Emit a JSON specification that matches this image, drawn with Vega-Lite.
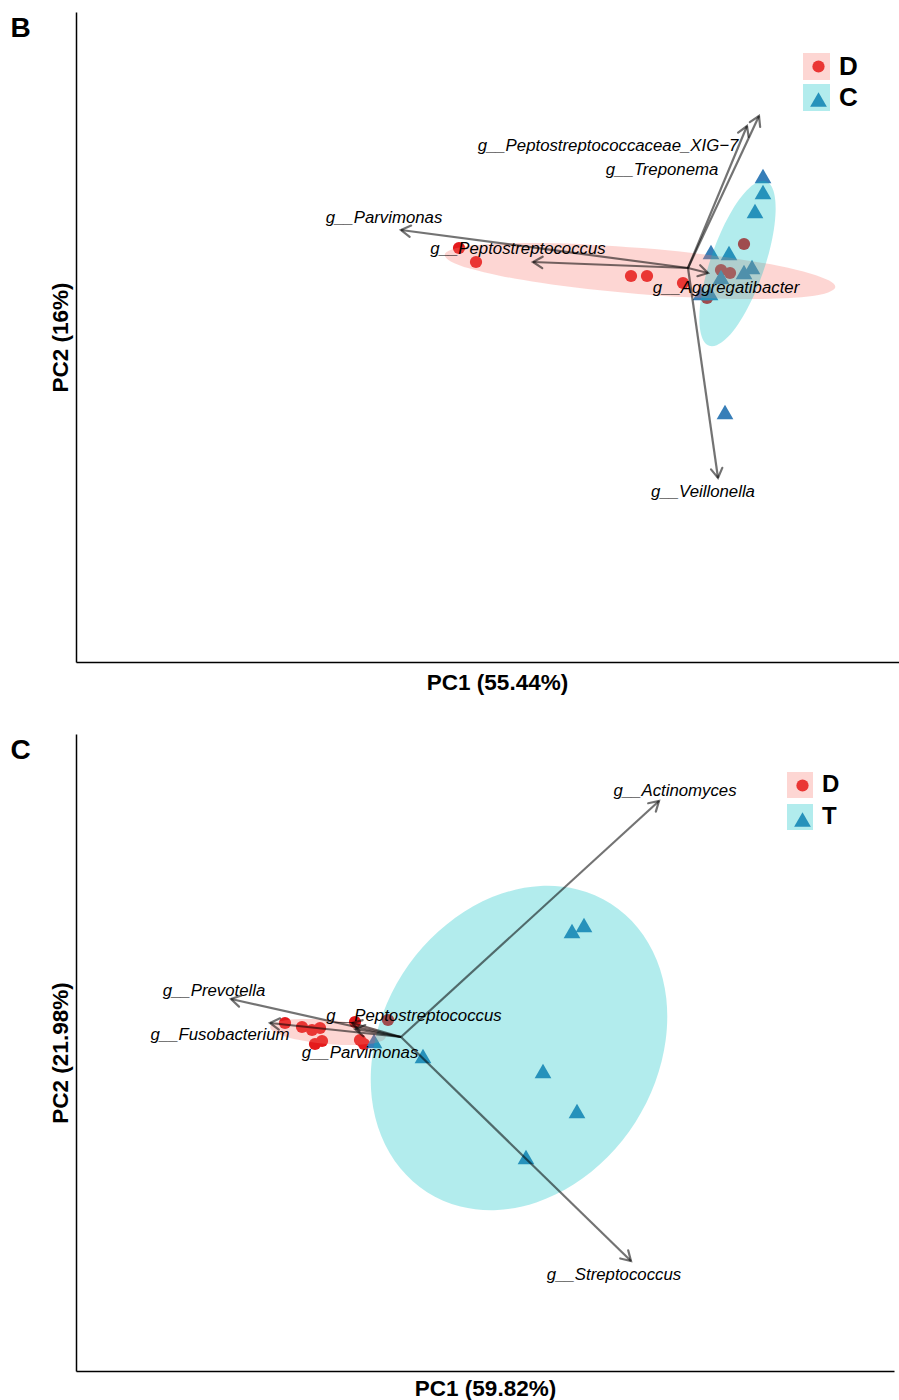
{
  "$schema": "https://vega.github.io/schema/vega-lite/v6.json",
  "padding": {"left": 10, "top": 12, "right": 0, "bottom": 0},
  "background": "white",
  "config": {
    "view": {"stroke": null},
    "font": "Liberation Sans",
    "axis": {"labels": false, "ticks": false, "grid": false, "domain": true, "domainColor": "black", "domainWidth": 1.5, "titleFont": "Liberation Sans", "titleFontSize": 22.5, "titleFontWeight": "bold", "titleColor": "black"}
  },
  "datasets": {
    "bPts": [
      {"pc1": -2.29, "pc2": 0.20, "group": "D"}, {"pc1": -2.12, "pc2": 0.06, "group": "D"}, {"pc1": -0.57, "pc2": -0.08, "group": "D"},
      {"pc1": -0.41, "pc2": -0.08, "group": "D"}, {"pc1": -0.05, "pc2": -0.15, "group": "D"}, {"pc1": 0.56, "pc2": 0.24, "group": "D"},
      {"pc1": 0.33, "pc2": -0.02, "group": "D"}, {"pc1": 0.42, "pc2": -0.05, "group": "D"}, {"pc1": 0.19, "pc2": -0.30, "group": "D"},
      {"pc1": 0.75, "pc2": 0.92, "group": "C"}, {"pc1": 0.75, "pc2": 0.76, "group": "C"}, {"pc1": 0.67, "pc2": 0.57, "group": "C"},
      {"pc1": 0.23, "pc2": 0.16, "group": "C"}, {"pc1": 0.41, "pc2": 0.15, "group": "C"}, {"pc1": 0.64, "pc2": 0.01, "group": "C"},
      {"pc1": 0.56, "pc2": -0.04, "group": "C"}, {"pc1": 0.33, "pc2": -0.09, "group": "C"}, {"pc1": 0.13, "pc2": -0.25, "group": "C"},
      {"pc1": 0.22, "pc2": -0.25, "group": "C"}, {"pc1": 0.37, "pc2": -1.44, "group": "C"}
    ],
    "bEll": [
      {"group": "D", "i": 0, "pc1": 1.473, "pc2": -0.191}, {"group": "D", "i": 1, "pc1": 1.412, "pc2": -0.126}, {"group": "D", "i": 2, "pc1": 1.221, "pc2": -0.054},
      {"group": "D", "i": 3, "pc1": 0.915, "pc2": 0.019}, {"group": "D", "i": 4, "pc1": 0.513, "pc2": 0.088}, {"group": "D", "i": 5, "pc1": 0.044, "pc2": 0.150},
      {"group": "D", "i": 6, "pc1": -0.461, "pc2": 0.199}, {"group": "D", "i": 7, "pc1": -0.967, "pc2": 0.233}, {"group": "D", "i": 8, "pc1": -1.440, "pc2": 0.249},
      {"group": "D", "i": 9, "pc1": -1.848, "pc2": 0.246}, {"group": "D", "i": 10, "pc1": -2.162, "pc2": 0.224}, {"group": "D", "i": 11, "pc1": -2.362, "pc2": 0.184},
      {"group": "D", "i": 12, "pc1": -2.433, "pc2": 0.131}, {"group": "D", "i": 13, "pc1": -2.372, "pc2": 0.066}, {"group": "D", "i": 14, "pc1": -2.181, "pc2": -0.006},
      {"group": "D", "i": 15, "pc1": -1.874, "pc2": -0.079}, {"group": "D", "i": 16, "pc1": -1.473, "pc2": -0.148}, {"group": "D", "i": 17, "pc1": -1.004, "pc2": -0.210},
      {"group": "D", "i": 18, "pc1": -0.499, "pc2": -0.259}, {"group": "D", "i": 19, "pc1": 0.007, "pc2": -0.293}, {"group": "D", "i": 20, "pc1": 0.480, "pc2": -0.309},
      {"group": "D", "i": 21, "pc1": 0.888, "pc2": -0.306}, {"group": "D", "i": 22, "pc1": 1.202, "pc2": -0.284}, {"group": "D", "i": 23, "pc1": 1.402, "pc2": -0.244},
      {"group": "C", "i": 0, "pc1": 0.778, "pc2": 0.868}, {"group": "C", "i": 1, "pc1": 0.703, "pc2": 0.862}, {"group": "C", "i": 2, "pc1": 0.613, "pc2": 0.801},
      {"group": "C", "i": 3, "pc1": 0.515, "pc2": 0.689}, {"group": "C", "i": 4, "pc1": 0.416, "pc2": 0.532}, {"group": "C", "i": 5, "pc1": 0.322, "pc2": 0.343},
      {"group": "C", "i": 6, "pc1": 0.240, "pc2": 0.133}, {"group": "C", "i": 7, "pc1": 0.175, "pc2": -0.083}, {"group": "C", "i": 8, "pc1": 0.132, "pc2": -0.290},
      {"group": "C", "i": 9, "pc1": 0.114, "pc2": -0.475}, {"group": "C", "i": 10, "pc1": 0.122, "pc2": -0.623}, {"group": "C", "i": 11, "pc1": 0.155, "pc2": -0.727},
      {"group": "C", "i": 12, "pc1": 0.212, "pc2": -0.778}, {"group": "C", "i": 13, "pc1": 0.287, "pc2": -0.772}, {"group": "C", "i": 14, "pc1": 0.377, "pc2": -0.711},
      {"group": "C", "i": 15, "pc1": 0.475, "pc2": -0.599}, {"group": "C", "i": 16, "pc1": 0.574, "pc2": -0.442}, {"group": "C", "i": 17, "pc1": 0.668, "pc2": -0.253},
      {"group": "C", "i": 18, "pc1": 0.750, "pc2": -0.043}, {"group": "C", "i": 19, "pc1": 0.815, "pc2": 0.173}, {"group": "C", "i": 20, "pc1": 0.858, "pc2": 0.380},
      {"group": "C", "i": 21, "pc1": 0.876, "pc2": 0.565}, {"group": "C", "i": 22, "pc1": 0.868, "pc2": 0.713}, {"group": "C", "i": 23, "pc1": 0.835, "pc2": 0.817}
    ],
    "bVec": [
      {"genus": "g__Peptostreptococcaceae_XIG−7", "pc1": 0.71, "pc2": 1.52, "lx": -0.80, "ly": 1.22},
      {"genus": "g__Treponema", "pc1": 0.59, "pc2": 1.42, "lx": -0.26, "ly": 0.98},
      {"genus": "g__Parvimonas", "pc1": -2.87, "pc2": 0.38, "lx": -3.04, "ly": 0.50},
      {"genus": "g__Peptostreptococcus", "pc1": -1.55, "pc2": 0.06, "lx": -1.70, "ly": 0.19},
      {"genus": "g__Aggregatibacter", "pc1": 0.20, "pc2": -0.05, "lx": 0.38, "ly": -0.20},
      {"genus": "g__Veillonella", "pc1": 0.30, "pc2": -2.10, "lx": 0.15, "ly": -2.24}
    ],
    "cPts": [
      {"pc1": -1.16, "pc2": 0.14, "group": "D"}, {"pc1": -0.99, "pc2": 0.10, "group": "D"}, {"pc1": -0.89, "pc2": 0.07, "group": "D"},
      {"pc1": -0.81, "pc2": 0.09, "group": "D"}, {"pc1": -0.86, "pc2": -0.07, "group": "D"}, {"pc1": -0.79, "pc2": -0.04, "group": "D"},
      {"pc1": -0.46, "pc2": 0.15, "group": "D"}, {"pc1": -0.41, "pc2": -0.03, "group": "D"}, {"pc1": -0.37, "pc2": -0.07, "group": "D"},
      {"pc1": -0.13, "pc2": 0.17, "group": "D"},
      {"pc1": 1.71, "pc2": 1.06, "group": "T"}, {"pc1": 1.83, "pc2": 1.12, "group": "T"}, {"pc1": 1.42, "pc2": -0.34, "group": "T"},
      {"pc1": 1.76, "pc2": -0.74, "group": "T"}, {"pc1": 1.25, "pc2": -1.20, "group": "T"}, {"pc1": 0.22, "pc2": -0.19, "group": "T"},
      {"pc1": -0.27, "pc2": -0.04, "group": "T"}
    ],
    "cEll": [
      {"group": "D", "i": 0, "pc1": -0.152, "pc2": -0.001}, {"group": "D", "i": 1, "pc1": -0.169, "pc2": 0.032}, {"group": "D", "i": 2, "pc1": -0.224, "pc2": 0.066},
      {"group": "D", "i": 3, "pc1": -0.314, "pc2": 0.099}, {"group": "D", "i": 4, "pc1": -0.432, "pc2": 0.128}, {"group": "D", "i": 5, "pc1": -0.570, "pc2": 0.152},
      {"group": "D", "i": 6, "pc1": -0.720, "pc2": 0.170}, {"group": "D", "i": 7, "pc1": -0.869, "pc2": 0.179}, {"group": "D", "i": 8, "pc1": -1.010, "pc2": 0.179},
      {"group": "D", "i": 9, "pc1": -1.131, "pc2": 0.170}, {"group": "D", "i": 10, "pc1": -1.225, "pc2": 0.154}, {"group": "D", "i": 11, "pc1": -1.285, "pc2": 0.130},
      {"group": "D", "i": 12, "pc1": -1.308, "pc2": 0.101}, {"group": "D", "i": 13, "pc1": -1.291, "pc2": 0.068}, {"group": "D", "i": 14, "pc1": -1.236, "pc2": 0.034},
      {"group": "D", "i": 15, "pc1": -1.146, "pc2": 0.001}, {"group": "D", "i": 16, "pc1": -1.028, "pc2": -0.028}, {"group": "D", "i": 17, "pc1": -0.890, "pc2": -0.052},
      {"group": "D", "i": 18, "pc1": -0.741, "pc2": -0.070}, {"group": "D", "i": 19, "pc1": -0.591, "pc2": -0.079}, {"group": "D", "i": 20, "pc1": -0.450, "pc2": -0.079},
      {"group": "D", "i": 21, "pc1": -0.329, "pc2": -0.070}, {"group": "D", "i": 22, "pc1": -0.235, "pc2": -0.054}, {"group": "D", "i": 23, "pc1": -0.175, "pc2": -0.030},
      {"group": "T", "i": 0, "pc1": 2.099, "pc2": 1.332}, {"group": "T", "i": 1, "pc1": 1.766, "pc2": 1.475}, {"group": "T", "i": 2, "pc1": 1.394, "pc2": 1.510},
      {"group": "T", "i": 3, "pc1": 1.007, "pc2": 1.434}, {"group": "T", "i": 4, "pc1": 0.631, "pc2": 1.253}, {"group": "T", "i": 5, "pc1": 0.294, "pc2": 0.979},
      {"group": "T", "i": 6, "pc1": 0.016, "pc2": 0.632}, {"group": "T", "i": 7, "pc1": -0.182, "pc2": 0.233}, {"group": "T", "i": 8, "pc1": -0.287, "pc2": -0.189},
      {"group": "T", "i": 9, "pc1": -0.293, "pc2": -0.606}, {"group": "T", "i": 10, "pc1": -0.198, "pc2": -0.988}, {"group": "T", "i": 11, "pc1": -0.009, "pc2": -1.311},
      {"group": "T", "i": 12, "pc1": 0.261, "pc2": -1.552}, {"group": "T", "i": 13, "pc1": 0.594, "pc2": -1.695}, {"group": "T", "i": 14, "pc1": 0.966, "pc2": -1.730},
      {"group": "T", "i": 15, "pc1": 1.353, "pc2": -1.654}, {"group": "T", "i": 16, "pc1": 1.729, "pc2": -1.473}, {"group": "T", "i": 17, "pc1": 2.066, "pc2": -1.199},
      {"group": "T", "i": 18, "pc1": 2.344, "pc2": -0.852}, {"group": "T", "i": 19, "pc1": 2.542, "pc2": -0.453}, {"group": "T", "i": 20, "pc1": 2.647, "pc2": -0.031},
      {"group": "T", "i": 21, "pc1": 2.653, "pc2": 0.386}, {"group": "T", "i": 22, "pc1": 2.558, "pc2": 0.768}, {"group": "T", "i": 23, "pc1": 2.369, "pc2": 1.091}
    ],
    "cVec": [
      {"genus": "g__Actinomyces", "pc1": 2.58, "pc2": 2.36, "lx": 2.74, "ly": 2.46},
      {"genus": "g__Streptococcus", "pc1": 2.30, "pc2": -2.24, "lx": 2.13, "ly": -2.38},
      {"genus": "g__Prevotella", "pc1": -1.70, "pc2": 0.38, "lx": -1.87, "ly": 0.46},
      {"genus": "g__Fusobacterium", "pc1": -1.31, "pc2": 0.14, "lx": -1.81, "ly": 0.02},
      {"genus": "g__Peptostreptococcus", "pc1": -0.49, "pc2": 0.14, "lx": 0.13, "ly": 0.21},
      {"genus": "g__Parvimonas", "pc1": -0.46, "pc2": 0.08, "lx": -0.41, "ly": -0.16}
    ]
  },
  "vconcat": [
    {
      "width": 823,
      "height": 650,
      "title": {"text": "B", "anchor": "end", "frame": "group", "orient": "left", "angle": 0, "align": "right", "baseline": "top", "offset": -2, "dy": 3, "fontSize": 28, "fontWeight": "bold", "font": "Liberation Sans", "color": "black"},
      "layer": [
        {
          "mark": {"type": "rule", "color": "black", "strokeWidth": 2},
          "encoding": {"x": {"datum": 0, "type": "quantitative", "scale": {"domain": [-6.12, 2.11], "nice": false, "zero": false}, "axis": {"title": "PC1 (55.44%)", "titlePadding": 9, "titleX": 421}}}
        },
        {
          "mark": {"type": "rule", "color": "black", "strokeWidth": 2},
          "encoding": {"y": {"datum": 0, "type": "quantitative", "scale": {"domain": [-3.94, 2.56], "nice": false, "zero": false}, "axis": {"title": "PC2 (16%)", "titlePadding": 4}}}
        },
        {
          "mark": {"type": "rule", "color": "black", "strokeWidth": 1.5},
          "encoding": {"y": {"datum": 2.56, "type": "quantitative"}}
        },
        {
          "data": {"name": "bPts"},
          "mark": {"type": "point", "filled": true, "opacity": 1, "strokeWidth": 0},
          "encoding": {
            "x": {"field": "pc1", "type": "quantitative"},
            "y": {"field": "pc2", "type": "quantitative"},
            "color": {"field": "group", "type": "nominal", "scale": {"domain": ["D", "C"], "range": ["#E41A1C", "#377EB8"]},
              "legend": {"title": null, "orient": "none", "legendX": 734, "legendY": 48, "symbolSize": 160, "symbolStrokeWidth": 0, "labelExpr": "''", "labelFontSize": 1, "rowPadding": 18, "padding": 0}},
            "shape": {"field": "group", "type": "nominal", "scale": {"domain": ["D", "C"], "range": ["circle", "triangle-up"]},
              "legend": {"title": null, "orient": "none", "legendX": 734, "legendY": 48, "symbolSize": 160, "symbolStrokeWidth": 0, "labelExpr": "''", "labelFontSize": 1, "rowPadding": 18, "padding": 0}},
            "size": {"field": "group", "type": "nominal", "scale": {"domain": ["D", "C"], "range": [150, 280]}, "legend": null}
          }
        },
        {
          "data": {"name": "bEll"},
          "mark": {"type": "line", "interpolate": "cardinal-closed", "strokeWidth": 0, "fillOpacity": 0.3},
          "encoding": {
            "x": {"field": "pc1", "type": "quantitative"},
            "y": {"field": "pc2", "type": "quantitative"},
            "order": {"field": "i", "type": "quantitative"},
            "fill": {"field": "group", "type": "nominal", "scale": {"domain": ["C", "D"], "range": ["#00BFC4", "#F8766D"]},
              "legend": {"title": null, "values": ["D", "C"], "orient": "none", "legendX": 727, "legendY": 41, "symbolType": "square", "symbolSize": 729, "symbolOpacity": 0.3, "symbolStrokeWidth": 0, "labelFontSize": 26, "labelFontWeight": "bold", "labelFont": "Liberation Sans", "labelColor": "black", "labelOffset": 9, "rowPadding": 4, "padding": 0}}
          }
        },
        {
          "data": {"name": "bVec"},
          "mark": {"type": "rule", "color": "black", "opacity": 0.55, "strokeWidth": 2.2},
          "encoding": {
            "x": {"field": "pc1", "type": "quantitative"},
            "y": {"field": "pc2", "type": "quantitative"},
            "x2": {"datum": 0},
            "y2": {"datum": 0}
          }
        },
        {
          "data": {"name": "bVec"},
          "transform": [{"calculate": "-atan2(datum.pc2, datum.pc1) * 180 / PI", "as": "ang"}],
          "mark": {"type": "point", "shape": "M -1 -0.6 L 0 0 L -1 0.6", "filled": false, "color": "black", "opacity": 0.55, "strokeWidth": 2.2, "size": 360, "strokeCap": "round", "strokeJoin": "miter"},
          "encoding": {
            "x": {"field": "pc1", "type": "quantitative"},
            "y": {"field": "pc2", "type": "quantitative"},
            "angle": {"field": "ang", "type": "quantitative", "scale": null}
          }
        },
        {
          "data": {"name": "bVec"},
          "mark": {"type": "text", "font": "Liberation Sans", "fontStyle": "italic", "fontSize": 16.8, "color": "black", "align": "center", "baseline": "middle"},
          "encoding": {
            "x": {"field": "lx", "type": "quantitative"},
            "y": {"field": "ly", "type": "quantitative"},
            "text": {"field": "genus", "type": "nominal"}
          }
        }
      ]
    },
    {
      "width": 818,
      "height": 637,
      "title": {"text": "C", "anchor": "end", "frame": "group", "orient": "left", "angle": 0, "align": "right", "baseline": "top", "offset": -2, "dy": 3, "fontSize": 28, "fontWeight": "bold", "font": "Liberation Sans", "color": "black"},
      "layer": [
        {
          "mark": {"type": "rule", "color": "black", "strokeWidth": 2},
          "encoding": {"x": {"datum": 0, "type": "quantitative", "scale": {"domain": [-3.25, 4.93], "nice": false, "zero": false}, "axis": {"title": "PC1 (59.82%)", "titlePadding": 6}}}
        },
        {
          "mark": {"type": "rule", "color": "black", "strokeWidth": 2},
          "encoding": {"y": {"datum": 0, "type": "quantitative", "scale": {"domain": [-3.34, 3.03], "nice": false, "zero": false}, "axis": {"title": "PC2 (21.98%)", "titlePadding": 4}}}
        },
        {
          "mark": {"type": "rule", "color": "black", "strokeWidth": 1.5},
          "encoding": {"y": {"datum": 3.03, "type": "quantitative"}}
        },
        {
          "mark": {"type": "rule", "color": "black", "strokeWidth": 1.5},
          "encoding": {"x": {"datum": 4.93, "type": "quantitative"}}
        },
        {
          "data": {"name": "cPts"},
          "mark": {"type": "point", "filled": true, "opacity": 1, "strokeWidth": 0},
          "encoding": {
            "x": {"field": "pc1", "type": "quantitative"},
            "y": {"field": "pc2", "type": "quantitative"},
            "color": {"field": "group", "type": "nominal", "scale": {"domain": ["D", "T"], "range": ["#E41A1C", "#377EB8"]},
              "legend": {"title": null, "orient": "none", "legendX": 718, "legendY": 45, "symbolSize": 160, "symbolStrokeWidth": 0, "labelExpr": "''", "labelFontSize": 1, "rowPadding": 19, "padding": 0}},
            "shape": {"field": "group", "type": "nominal", "scale": {"domain": ["D", "T"], "range": ["circle", "triangle-up"]},
              "legend": {"title": null, "orient": "none", "legendX": 718, "legendY": 45, "symbolSize": 160, "symbolStrokeWidth": 0, "labelExpr": "''", "labelFontSize": 1, "rowPadding": 19, "padding": 0}},
            "size": {"field": "group", "type": "nominal", "scale": {"domain": ["D", "T"], "range": [150, 280]}, "legend": null}
          }
        },
        {
          "data": {"name": "cEll"},
          "mark": {"type": "line", "interpolate": "cardinal-closed", "strokeWidth": 0, "fillOpacity": 0.3},
          "encoding": {
            "x": {"field": "pc1", "type": "quantitative"},
            "y": {"field": "pc2", "type": "quantitative"},
            "order": {"field": "i", "type": "quantitative"},
            "fill": {"field": "group", "type": "nominal", "scale": {"domain": ["T", "D"], "range": ["#00BFC4", "#F8766D"]},
              "legend": {"title": null, "values": ["D", "T"], "orient": "none", "legendX": 711, "legendY": 38, "symbolType": "square", "symbolSize": 676, "symbolOpacity": 0.3, "symbolStrokeWidth": 0, "labelFontSize": 24, "labelFontWeight": "bold", "labelFont": "Liberation Sans", "labelColor": "black", "labelOffset": 9, "rowPadding": 6, "padding": 0}}
          }
        },
        {
          "data": {"name": "cVec"},
          "mark": {"type": "rule", "color": "black", "opacity": 0.55, "strokeWidth": 2.2},
          "encoding": {
            "x": {"field": "pc1", "type": "quantitative"},
            "y": {"field": "pc2", "type": "quantitative"},
            "x2": {"datum": 0},
            "y2": {"datum": 0}
          }
        },
        {
          "data": {"name": "cVec"},
          "transform": [{"calculate": "-atan2(datum.pc2, datum.pc1) * 180 / PI", "as": "ang"}],
          "mark": {"type": "point", "shape": "M -1 -0.6 L 0 0 L -1 0.6", "filled": false, "color": "black", "opacity": 0.55, "strokeWidth": 2.2, "size": 360, "strokeCap": "round", "strokeJoin": "miter"},
          "encoding": {
            "x": {"field": "pc1", "type": "quantitative"},
            "y": {"field": "pc2", "type": "quantitative"},
            "angle": {"field": "ang", "type": "quantitative", "scale": null}
          }
        },
        {
          "data": {"name": "cVec"},
          "mark": {"type": "text", "font": "Liberation Sans", "fontStyle": "italic", "fontSize": 16.8, "color": "black", "align": "center", "baseline": "middle"},
          "encoding": {
            "x": {"field": "lx", "type": "quantitative"},
            "y": {"field": "ly", "type": "quantitative"},
            "text": {"field": "genus", "type": "nominal"}
          }
        }
      ]
    }
  ],
  "spacing": 40,
  "resolve": {
    "scale": {"x": "independent", "y": "independent", "color": "independent", "fill": "independent", "shape": "independent", "size": "independent"},
    "legend": {"color": "independent", "fill": "independent", "shape": "independent", "size": "independent"}
  }
}
